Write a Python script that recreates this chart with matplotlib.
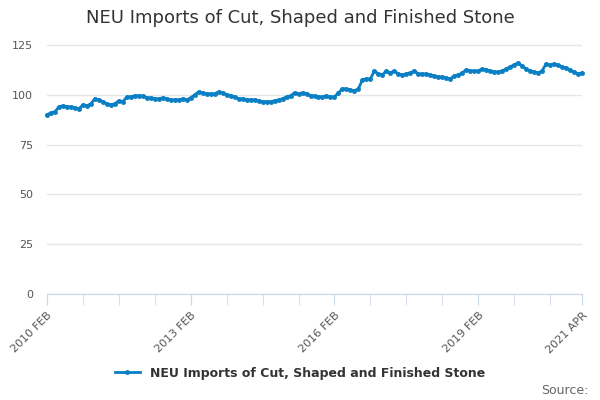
import matplotlib.pyplot as plt

title = "NEU Imports of Cut, Shaped and Finished Stone"
values = [
    90, 91, 91.5, 94, 94.5, 94, 94, 93.5, 93, 95, 94.5,
    95.5, 98, 97.5, 96.5, 95.5, 95, 95.5, 97, 96.5, 99, 99, 99.5,
    99.5, 99.5, 98.5, 98.5, 98, 98, 98.5, 98, 97.5, 97.5, 97.5, 98,
    97.5, 98.5, 100, 101.5, 101, 100.5, 100.5, 100.5, 101.5, 101, 100, 99.5,
    99, 98, 98, 97.5, 97.5, 97.5, 97, 96.5, 96.5, 96.5, 97, 97.5,
    98, 99, 99.5, 101, 100.5, 101, 100.5, 99.5, 99.5, 99, 99, 99.5,
    99, 99, 101, 103, 103, 102.5, 102, 103, 107.5, 108, 108, 112,
    110.5, 110, 112, 111, 112, 110.5, 110, 110.5, 111, 112, 110.5, 110.5,
    110.5, 110, 109.5, 109, 109, 108.5, 108, 109.5, 110, 111, 112.5, 112,
    112, 112, 113, 112.5, 112, 111.5, 111.5, 112, 113, 114, 115, 116,
    114.5, 113, 112, 111.5, 111, 112, 115.5, 115, 115.5, 115, 114, 113.5,
    112.5, 111.5, 110.5, 111,
]
tick_pos = [0, 36, 72, 108, 134]
tick_labels = ["2010 FEB", "2013 FEB", "2016 FEB", "2019 FEB", "2021 APR"]

fig = plt.figure(figsize=(6, 4), dpi=100)
ax = fig.add_axes([47/600, 106/400, 535/600, 255/400])
x = list(range(len(values)))
ax.plot(x, values, color="#0a7fc4", lw=2, marker="o", ms=2.5, label=title, clip_on=False)
ax.set_xlim(0, len(values) - 1)
ax.set_ylim(0, 128)
ax.set_yticks([0, 25, 50, 75, 100, 125])
ax.grid(axis="y", color="#e6e6e6", lw=1)
ax.set_axisbelow(True)
ax.set_xticks(list(range(0, 135, 9)) + [134], minor=True)
ax.set_xticks(tick_pos)
ax.set_xticklabels(tick_labels, rotation=45, ha="right", rotation_mode="anchor")
ax.tick_params(axis="x", which="both", length=8, color="#ccd6eb", labelsize=8, labelcolor="#555555")
ax.tick_params(axis="y", length=0, labelsize=8, labelcolor="#555555", pad=10)
for s in ["top", "right", "left"]:
    ax.spines[s].set_visible(False)
ax.spines["bottom"].set_color("#ccd6eb")
fig.text(0.5, 0.955, title, ha="center", va="center", fontsize=13, color="#333333")
fig.legend(loc="center", bbox_to_anchor=(0.5, 27/400), frameon=False,
           prop={"size": 9, "weight": "bold"}, labelcolor="#333333", handlelength=2)
fig.text(0.98, 0.025, "Source:", ha="right", va="center", fontsize=9, color="#666666")
fig.savefig("out.png")
